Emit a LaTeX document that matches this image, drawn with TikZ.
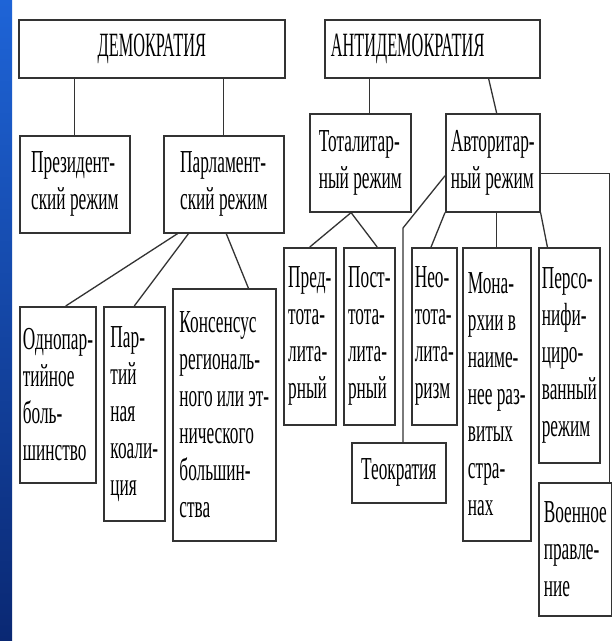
\documentclass[tikz,border=0pt]{standalone}
\usepackage{fontspec}
\setmainfont{Liberation Serif}[FakeStretch=0.54]
\newfontfamily\headfont{Liberation Serif}[FakeStretch=0.48]
\usetikzlibrary{positioning, calc}
\definecolor{slideblue}{RGB}{30,100,215}
\definecolor{slidenavy}{RGB}{10,40,115}
\newcommand{\boxsize}{\fontsize{32}{37}\selectfont}
\newcommand{\headsize}{\headfont\fontsize{34}{38}\selectfont}
\tikzset{
  regbox/.style={draw=black!80, line width=1.6pt, fill=white, anchor=north west,
    align=left, inner xsep=3pt, inner ysep=0pt, font=\boxsize, text=black},
  link/.style={draw=black!80, line width=1.3pt},
}

\begin{document}
\begin{tikzpicture}[x=1pt, y=-1pt]
  \useasboundingbox (0,0) rectangle (612,641);
  \fill[white] (0,0) rectangle (612,641);
  \shade[top color=slideblue, bottom color=slidenavy] (0,0) rectangle (12,641);

  % Top level
  \node[regbox, minimum width=266pt, minimum height=58pt, font=\headsize] (demo) at (18,19) {ДЕМОКРАТИЯ};
  \node[regbox, text width=203pt, inner xsep=6pt, minimum height=58pt, font=\headsize] (antidemo) at (324,19) {АНТИДЕМОКРАТИЯ};

  % Democracy
  \node[regbox, minimum width=110pt, minimum height=97pt] (prez) at (19,135) {Президент-\\ский режим};
  \node[regbox, minimum width=120pt, minimum height=97pt] (parl) at (163,135) {Парламент-\\ский режим};
  \node[regbox, minimum width=76pt, minimum height=176pt] (odno) at (19,306) {Однопар-\\тийное\\боль-\\шинство};
  \node[regbox, minimum width=61pt, minimum height=214pt] (part) at (103,306) {Пар-\\тий\\ная\\коали-\\ция};
  \node[regbox, minimum width=103pt, minimum height=252pt] (kons) at (172,288) {Консенсус\\региональ-\\ного или эт-\\нического\\большин-\\ства};

  % Antidemocracy
  \node[regbox, minimum width=101pt, minimum height=98pt] (total) at (309,113) {Тоталитар-\\ный режим};
  \node[regbox, minimum width=94pt, minimum height=98pt] (avtor) at (445,113) {Авторитар-\\ный режим};
  \node[regbox, minimum width=52pt, minimum height=177pt] (pred) at (283,247) {Пред-\\тота-\\лита-\\рный};
  \node[regbox, minimum width=51pt, minimum height=177pt] (post) at (343,247) {Пост-\\тота-\\лита-\\рный};
  \node[regbox, minimum width=42pt, minimum height=177pt] (neo) at (411,247) {Нео-\\тота-\\лита-\\ризм};
  \node[regbox, minimum width=68pt, minimum height=293pt] (monar) at (462,247) {Мона-\\рхии в\\наиме-\\нее раз-\\витых\\стра-\\нах};
  \node[regbox, minimum width=61pt, minimum height=215pt] (perso) at (538,247) {Персо-\\нифи-\\циро-\\ванный\\режим};
  \node[regbox, minimum width=94pt, minimum height=60pt] (teokr) at (351,442) {Теократия};
  \node[regbox, minimum width=73pt, minimum height=133pt] (voen) at (538,482) {Военное\\правле-\\ние};

  % Links
  \draw[link] (demo.south -| prez.north) -- (prez.north);
  \draw[link] (demo.south -| parl.north) -- (parl.north);
  \draw[link] ($(parl.south west)!0.12!(parl.south east)$) -- ($(odno.north west)!0.6!(odno.north east)$);
  \draw[link] ($(parl.south west)!0.21!(parl.south east)$) -- (part.north);
  \draw[link] ($(parl.south west)!0.52!(parl.south east)$) -- ($(kons.north west)!0.73!(kons.north east)$);

  \draw[link] ($(antidemo.south west)!0.21!(antidemo.south east)$) coordinate (t0) -- (t0 |- total.north);
  \draw[link] ($(antidemo.south west)!0.76!(antidemo.south east)$) -- ($(avtor.north west)!0.54!(avtor.north east)$);
  \draw[link] ($(total.south west)!0.41!(total.south east)$) -- (pred.north);
  \draw[link] ($(total.south west)!0.41!(total.south east)$) -- ($(post.north west)!0.65!(post.north east)$);
  \draw[link] (avtor.south west) -- ($(neo.north west)!0.43!(neo.north east)$);
  \draw[link] (avtor.south -| monar.north) -- (monar.north);
  \draw[link] (avtor.south east) -- ($(perso.north west)!0.15!(perso.north east)$);
  \coordinate (tbend) at (403,228);
  \draw[link] ($(avtor.north west)!0.63!(avtor.south west)$) -- (tbend) -- (tbend |- teokr.north);
  \draw[link] ($(avtor.north east)!0.61!(avtor.south east)$) -| ($(voen.north west)!0.96!(voen.north east)$);
\end{tikzpicture}
\end{document}
